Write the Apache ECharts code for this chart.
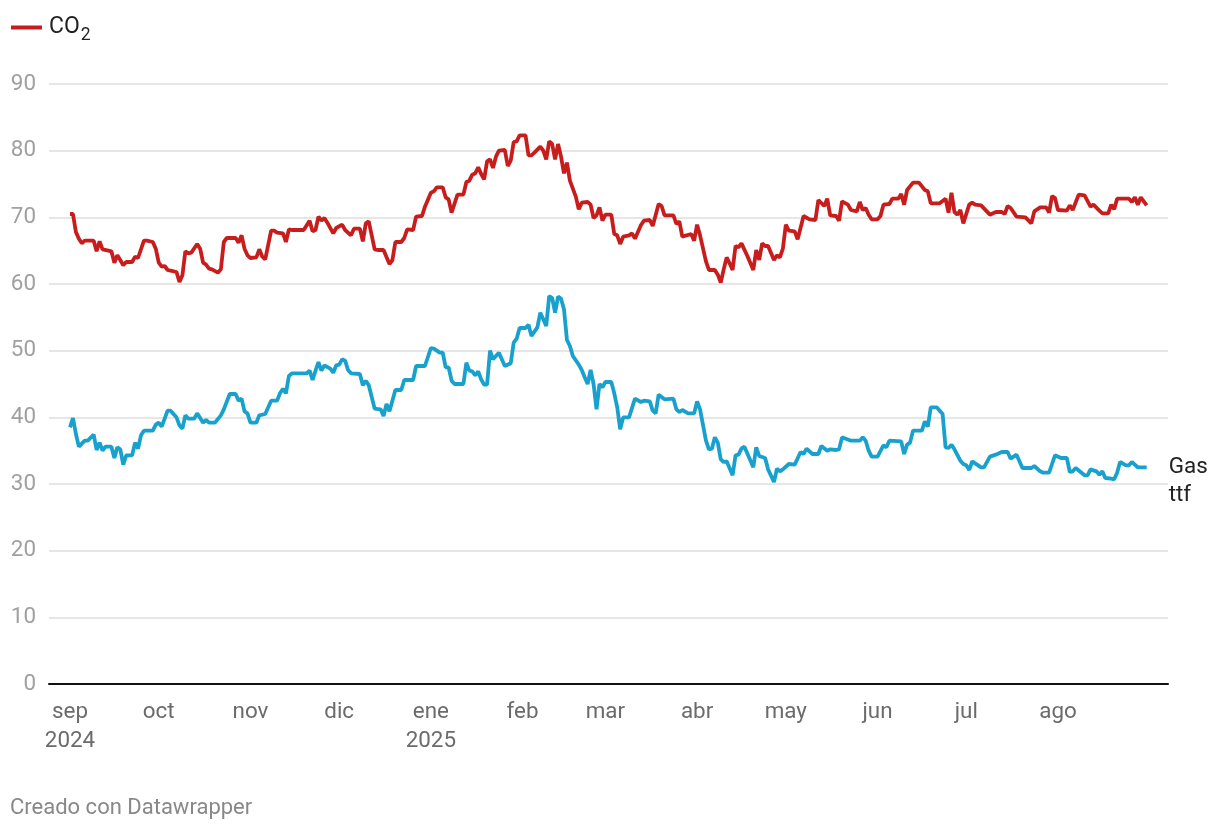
<!DOCTYPE html>
<html>
<head>
<meta charset="utf-8">
<script src="https://cdn.jsdelivr.net/npm/echarts@6/dist/echarts.min.js"></script>
<style>html,body{margin:0;padding:0;background:#fff}#c{width:1220px;height:830px}</style>
</head>
<body>
<div id="c"></div>
<script>
// ---- data ----
const monthLabels = ['ene','feb','mar','abr','may','jun','jul','ago','sep','oct','nov','dic'];
const tickDates = ['2024-09-01','2024-10-01','2024-11-01','2024-12-01','2025-01-01','2025-02-01','2025-03-01','2025-04-01','2025-05-01','2025-06-01','2025-07-01','2025-08-01'];
const yTicks = [0,10,20,30,40,50,60,70,80,90];

const co2Dates = [
'2024-09-01','2024-09-02','2024-09-03','2024-09-04','2024-09-05','2024-09-06','2024-09-09','2024-09-10','2024-09-11','2024-09-12',
'2024-09-14','2024-09-15','2024-09-16','2024-09-17','2024-09-18','2024-09-19','2024-09-20','2024-09-22','2024-09-23','2024-09-24',
'2024-09-26','2024-09-27','2024-09-29','2024-09-30','2024-10-01','2024-10-02','2024-10-03','2024-10-04','2024-10-05','2024-10-07',
'2024-10-08','2024-10-09','2024-10-10','2024-10-11','2024-10-12','2024-10-14','2024-10-15','2024-10-16','2024-10-17','2024-10-18',
'2024-10-19','2024-10-21','2024-10-22','2024-10-23','2024-10-24','2024-10-27','2024-10-28','2024-10-29','2024-10-30','2024-10-31',
'2024-11-01','2024-11-03','2024-11-04','2024-11-05','2024-11-06','2024-11-08','2024-11-09','2024-11-10','2024-11-12','2024-11-13',
'2024-11-14','2024-11-15','2024-11-19','2024-11-21','2024-11-22','2024-11-23','2024-11-24','2024-11-25','2024-11-26','2024-11-27',
'2024-11-29','2024-11-30','2024-12-02','2024-12-03','2024-12-05','2024-12-06','2024-12-08','2024-12-09','2024-12-10','2024-12-11',
'2024-12-13','2024-12-14','2024-12-16','2024-12-18','2024-12-19','2024-12-20','2024-12-22','2024-12-23','2024-12-24','2024-12-26',
'2024-12-27','2024-12-29','2024-12-30','2025-01-01','2025-01-02','2025-01-03','2025-01-05','2025-01-06','2025-01-07','2025-01-08',
'2025-01-10','2025-01-12','2025-01-13','2025-01-14','2025-01-15','2025-01-16','2025-01-17','2025-01-18','2025-01-19','2025-01-20',
'2025-01-21','2025-01-22','2025-01-23','2025-01-24','2025-01-26','2025-01-27','2025-01-28','2025-01-29','2025-01-30','2025-01-31',
'2025-02-02','2025-02-03','2025-02-04','2025-02-05','2025-02-07','2025-02-08','2025-02-09','2025-02-10','2025-02-11','2025-02-12',
'2025-02-13','2025-02-14','2025-02-15','2025-02-16','2025-02-17','2025-02-19','2025-02-20','2025-02-21','2025-02-23','2025-02-24',
'2025-02-25','2025-02-26','2025-02-27','2025-02-28','2025-03-01','2025-03-03','2025-03-04','2025-03-05','2025-03-06','2025-03-07',
'2025-03-09','2025-03-10','2025-03-11','2025-03-13','2025-03-14','2025-03-16','2025-03-17','2025-03-19','2025-03-20','2025-03-21',
'2025-03-24','2025-03-25','2025-03-26','2025-03-27','2025-03-30','2025-03-31','2025-04-01','2025-04-02','2025-04-04','2025-04-05',
'2025-04-07','2025-04-08','2025-04-09','2025-04-10','2025-04-11','2025-04-12','2025-04-13','2025-04-14','2025-04-15','2025-04-16',
'2025-04-18','2025-04-20','2025-04-21','2025-04-22','2025-04-23','2025-04-24','2025-04-25','2025-04-27','2025-04-28','2025-04-29',
'2025-04-30','2025-05-01','2025-05-02','2025-05-04','2025-05-05','2025-05-07','2025-05-09','2025-05-11','2025-05-12','2025-05-14',
'2025-05-15','2025-05-16','2025-05-18','2025-05-19','2025-05-20','2025-05-22','2025-05-23','2025-05-25','2025-05-26','2025-05-27',
'2025-05-28','2025-05-29','2025-05-30','2025-06-01','2025-06-02','2025-06-03','2025-06-05','2025-06-06','2025-06-08','2025-06-09',
'2025-06-10','2025-06-11','2025-06-13','2025-06-15','2025-06-17','2025-06-18','2025-06-19','2025-06-22','2025-06-24','2025-06-25',
'2025-06-26','2025-06-27','2025-06-28','2025-06-29','2025-06-30','2025-07-02','2025-07-03','2025-07-04','2025-07-06','2025-07-09',
'2025-07-11','2025-07-13','2025-07-14','2025-07-15','2025-07-16','2025-07-18','2025-07-21','2025-07-23','2025-07-24','2025-07-26',
'2025-07-28','2025-07-29','2025-07-30','2025-07-31','2025-08-01','2025-08-04','2025-08-05','2025-08-06','2025-08-08','2025-08-10',
'2025-08-12','2025-08-13','2025-08-15','2025-08-16','2025-08-18','2025-08-19','2025-08-20','2025-08-21','2025-08-25','2025-08-26',
'2025-08-27','2025-08-28','2025-08-29','2025-08-31'
];
const co2Values = [
70.5,70.5,67.8,66.8,66.1,66.5,66.5,64.9,66.4,65.2,
65.0,64.9,63.2,64.3,63.6,62.8,63.3,63.3,64.1,63.9,
66.5,66.5,66.3,65.3,63.2,62.6,62.7,62.1,62.0,61.8,
60.3,61.3,64.9,64.6,64.7,66.0,65.3,63.2,62.9,62.3,
62.2,61.7,62.2,66.3,66.9,66.9,66.2,67.3,65.3,64.3,
63.9,64.0,65.2,64.1,63.7,68.0,68.0,67.7,67.6,66.3,
68.2,68.1,68.1,69.5,67.9,68.1,70.1,69.5,69.9,69.2,
67.6,68.4,68.9,68.1,67.3,68.3,68.3,66.4,69.1,69.4,
65.2,65.1,65.1,63.0,63.6,66.3,66.3,66.9,68.2,68.1,
70.1,70.2,71.6,73.7,73.9,74.5,74.5,73.0,72.7,70.7,
73.4,73.4,75.3,75.5,76.4,76.6,77.5,76.5,75.7,78.4,
78.7,77.4,79.1,80.0,80.1,77.7,78.5,81.3,81.4,82.3,
82.3,79.3,79.3,79.7,80.6,80.0,78.7,81.4,81.0,78.7,
81.0,79.1,76.6,78.2,75.5,73.1,71.2,72.2,72.3,71.9,
69.9,70.3,71.5,69.5,70.4,70.4,67.5,67.3,66.0,67.1,
67.3,67.6,66.8,68.8,69.5,69.6,68.7,72.0,71.7,70.3,
70.3,69.0,69.4,67.1,67.5,66.5,68.9,67.3,63.4,62.1,
62.1,61.4,60.2,62.2,64.0,63.1,62.1,65.7,65.5,66.1,
64.2,62.1,65.1,63.6,66.1,65.7,65.7,63.6,64.3,64.0,
65.3,68.9,68.0,67.9,66.7,70.2,69.7,69.6,72.6,71.7,
72.8,70.3,70.2,69.5,72.4,71.9,71.1,70.9,72.3,71.1,
71.4,70.4,69.7,69.7,70.2,71.9,72.0,72.8,72.8,73.5,
71.9,74.1,75.2,75.2,74.1,73.9,72.1,72.1,72.8,70.7,
73.7,70.8,70.4,71.1,69.1,71.9,72.2,71.9,71.8,70.4,
70.8,70.8,70.5,71.7,71.4,70.1,70.0,69.1,70.9,71.5,
71.5,70.7,73.2,72.9,71.1,71.0,71.8,71.1,73.4,73.3,
71.6,71.9,71.0,70.6,70.6,71.9,71.2,72.8,72.8,72.3,
73.0,71.9,73.0,71.8
];

const gasDates = [
'2024-09-01','2024-09-02','2024-09-03','2024-09-04','2024-09-06','2024-09-07','2024-09-09','2024-09-10','2024-09-11','2024-09-12',
'2024-09-13','2024-09-15','2024-09-16','2024-09-17','2024-09-18','2024-09-19','2024-09-20','2024-09-22','2024-09-23','2024-09-24',
'2024-09-25','2024-09-26','2024-09-29','2024-09-30','2024-10-01','2024-10-02','2024-10-04','2024-10-05','2024-10-07','2024-10-08',
'2024-10-09','2024-10-10','2024-10-11','2024-10-13','2024-10-14','2024-10-16','2024-10-17','2024-10-18','2024-10-20','2024-10-22',
'2024-10-23','2024-10-25','2024-10-27','2024-10-28','2024-10-29','2024-10-30','2024-10-31','2024-11-01','2024-11-03','2024-11-04',
'2024-11-06','2024-11-08','2024-11-10','2024-11-11','2024-11-12','2024-11-13','2024-11-14','2024-11-15','2024-11-20','2024-11-21',
'2024-11-22','2024-11-23','2024-11-24','2024-11-25','2024-11-26','2024-11-28','2024-11-29','2024-11-30','2024-12-01','2024-12-02',
'2024-12-03','2024-12-04','2024-12-05','2024-12-08','2024-12-09','2024-12-10','2024-12-11','2024-12-13','2024-12-15','2024-12-16',
'2024-12-17','2024-12-18','2024-12-20','2024-12-22','2024-12-23','2024-12-26','2024-12-27','2024-12-30','2025-01-01','2025-01-02',
'2025-01-04','2025-01-05','2025-01-06','2025-01-07','2025-01-08','2025-01-09','2025-01-12','2025-01-13','2025-01-14','2025-01-15',
'2025-01-16','2025-01-17','2025-01-18','2025-01-19','2025-01-20','2025-01-21','2025-01-22','2025-01-24','2025-01-26','2025-01-28',
'2025-01-29','2025-01-30','2025-01-31','2025-02-02','2025-02-03','2025-02-04','2025-02-06','2025-02-07','2025-02-08','2025-02-09',
'2025-02-10','2025-02-11','2025-02-12','2025-02-13','2025-02-14','2025-02-15','2025-02-16','2025-02-17','2025-02-18','2025-02-20',
'2025-02-21','2025-02-22','2025-02-23','2025-02-24','2025-02-25','2025-02-26','2025-02-27','2025-02-28','2025-03-01','2025-03-03',
'2025-03-04','2025-03-05','2025-03-06','2025-03-07','2025-03-09','2025-03-11','2025-03-13','2025-03-14','2025-03-16','2025-03-17',
'2025-03-18','2025-03-19','2025-03-21','2025-03-24','2025-03-25','2025-03-26','2025-03-27','2025-03-29','2025-03-31','2025-04-01',
'2025-04-02','2025-04-04','2025-04-05','2025-04-06','2025-04-07','2025-04-08','2025-04-09','2025-04-10','2025-04-11','2025-04-13',
'2025-04-14','2025-04-15','2025-04-16','2025-04-17','2025-04-20','2025-04-21','2025-04-22','2025-04-24','2025-04-25','2025-04-27',
'2025-04-28','2025-04-29','2025-04-30','2025-05-02','2025-05-04','2025-05-06','2025-05-07','2025-05-08','2025-05-10','2025-05-12',
'2025-05-13','2025-05-15','2025-05-16','2025-05-18','2025-05-19','2025-05-20','2025-05-23','2025-05-26','2025-05-27','2025-05-28',
'2025-05-29','2025-05-30','2025-06-01','2025-06-03','2025-06-04','2025-06-05','2025-06-09','2025-06-10','2025-06-11','2025-06-12',
'2025-06-13','2025-06-16','2025-06-17','2025-06-18','2025-06-19','2025-06-21','2025-06-23','2025-06-24','2025-06-25','2025-06-26',
'2025-06-27','2025-06-29','2025-06-30','2025-07-01','2025-07-02','2025-07-03','2025-07-06','2025-07-07','2025-07-09','2025-07-11',
'2025-07-13','2025-07-15','2025-07-16','2025-07-18','2025-07-20','2025-07-23','2025-07-24','2025-07-26','2025-07-27','2025-07-29',
'2025-07-30','2025-07-31','2025-08-02','2025-08-04','2025-08-05','2025-08-06','2025-08-07','2025-08-10','2025-08-11','2025-08-12',
'2025-08-14','2025-08-15','2025-08-16','2025-08-17','2025-08-19','2025-08-20','2025-08-21','2025-08-22','2025-08-24','2025-08-25',
'2025-08-26','2025-08-28','2025-08-31'
];
const gasValues = [
38.5,39.9,37.5,35.6,36.5,36.5,37.4,35.1,36.2,35.0,
35.6,35.6,33.9,35.5,35.2,32.9,34.3,34.3,36.2,35.3,
37.3,38.0,38.0,38.9,39.2,38.6,41.0,41.0,40.0,38.8,
38.3,40.3,39.8,39.8,40.6,39.2,39.6,39.2,39.2,40.3,
41.2,43.5,43.5,42.5,42.8,40.9,40.6,39.2,39.2,40.3,
40.5,42.5,42.5,43.6,44.3,43.6,46.2,46.6,46.6,47.0,
45.6,47.0,48.3,47.0,47.8,47.3,46.7,47.8,47.9,48.7,
48.5,47.1,46.6,46.5,44.8,45.5,44.8,41.3,41.2,40.2,
42.0,40.9,44.1,44.1,45.6,45.6,47.7,47.7,50.4,50.3,
49.7,49.7,47.5,47.5,45.5,45.0,45.0,48.2,47.0,46.9,
46.3,46.9,45.7,44.9,44.9,50.0,48.7,49.7,47.7,48.1,
51.2,51.8,53.4,53.4,53.9,52.2,53.5,55.7,54.7,53.7,
58.2,57.9,55.7,58.1,57.8,56.2,51.6,50.7,49.2,47.9,
47.1,46.0,45.0,47.1,45.0,41.2,45.0,44.5,45.3,45.3,
43.6,41.5,38.2,40.0,40.0,42.8,42.3,42.5,42.4,41.0,
40.6,43.4,42.7,42.8,41.2,40.8,41.1,40.6,40.6,42.4,
41.2,36.5,35.2,35.3,37.0,36.2,33.7,33.3,33.4,31.3,
34.3,34.4,35.3,35.6,32.5,35.5,34.2,33.9,32.2,30.3,
32.3,31.9,32.2,33.0,32.9,34.8,34.5,35.3,34.5,34.5,
35.7,35.0,35.2,35.1,35.2,37.0,36.5,36.5,37.0,36.5,
35.0,34.1,34.1,35.8,35.5,36.5,36.4,34.5,35.9,36.2,
38.0,38.0,39.4,38.6,41.5,41.5,40.5,35.5,35.4,35.9,
35.2,33.5,33.0,32.8,32.1,33.4,32.5,32.5,34.1,34.4,
34.8,34.8,33.8,34.4,32.4,32.4,32.7,31.9,31.7,31.7,
33.0,34.3,33.9,33.9,31.8,31.9,32.4,31.3,31.3,32.2,
31.9,31.4,31.9,30.9,30.8,30.7,31.7,33.3,32.8,32.8,
33.3,32.5,32.5
];

// ---- chart ----
function ts(s){ const p = s.split('-').map(Number); return new Date(p[0], p[1]-1, p[2]).getTime(); }
const DAY = 864e5;
const base = ts('2024-09-01');
const FONT = 'Roboto, "Noto Sans", sans-serif';

const chart = echarts.init(document.getElementById('c'));
chart.setOption({
  animation: false,
  textStyle: { fontFamily: FONT },
  grid: { left: 49, right: 52, top: 84, bottom: 146 },
  legend: {
    data: ['CO2'],
    left: 11, top: 16, padding: 0,
    icon: 'rect', itemWidth: 31, itemHeight: 4,
    formatter: () => '{a|CO}{b|2}',
    textStyle: {
      padding: [0, 0, 0, 2],
      rich: {
        a: { fontSize: 23, color: '#222', fontFamily: FONT },
        b: { fontSize: 17.5, color: '#222', fontFamily: FONT, padding: [16, 0, 0, 1] }
      }
    }
  },
  xAxis: {
    type: 'value',
    min: base - 7.1 * DAY,
    max: base + 371.2 * DAY,
    axisLine: { lineStyle: { color: '#111', width: 2 } },
    axisTick: { show: false },
    splitLine: { show: false },
    axisLabel: {
      customValues: tickDates.map(ts),
      fontSize: 22.4, color: '#6b6b6b', lineHeight: 29, margin: 14,
      formatter: function (v) {
        const d = new Date(v);
        let s = monthLabels[d.getMonth()];
        if (d.getMonth() === 0 || (d.getMonth() === 8 && d.getFullYear() === 2024)) s += '\n' + d.getFullYear();
        return s;
      }
    }
  },
  yAxis: {
    type: 'value', min: yTicks[0], max: yTicks[yTicks.length - 1], interval: 10,
    axisLine: { show: false }, axisTick: { show: false },
    splitLine: { lineStyle: { color: '#e6e6e6', width: 2 } },
    axisLabel: { fontSize: 22.4, color: '#a0a0a0', margin: 13 }
  },
  series: [
    {
      name: 'CO2', type: 'line', symbol: 'none', color: '#c71e1d',
      lineStyle: { width: 3.8, color: '#c71e1d' },
      data: co2Dates.map((d, i) => [ts(d), co2Values[i]]),
      emphasis: { disabled: true }
    },
    {
      name: 'Gas ttf', type: 'line', symbol: 'none', color: '#18a1cd',
      lineStyle: { width: 3.8, color: '#18a1cd' },
      data: gasDates.map((d, i) => [ts(d), gasValues[i]]),
      emphasis: { disabled: true },
      endLabel: {
        show: true, formatter: 'Gas\nttf', color: '#222', fontSize: 22.4, lineHeight: 28,
        distance: 22, align: 'left', verticalAlign: 'top', offset: [0, -14], fontFamily: FONT
      }
    }
  ],
  graphic: [{
    type: 'text', left: 10, top: 797,
    style: { text: 'Creado con Datawrapper', fontSize: 22, fill: '#888', fontFamily: FONT }
  }]
});
</script>
</body>
</html>
